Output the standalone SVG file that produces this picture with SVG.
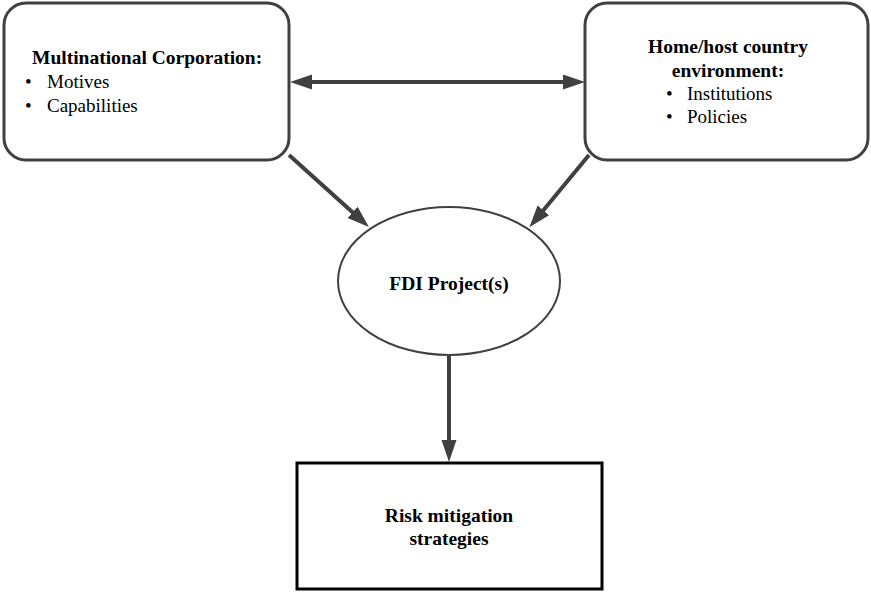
<svg xmlns="http://www.w3.org/2000/svg" width="871" height="592" viewBox="0 0 871 592" font-family="Liberation Serif">
<style>
.box{fill:#fff;stroke:#404040;stroke-width:3}
.conn{stroke:#404040;stroke-width:4;fill:none}
.b{font-weight:bold;font-size:19.5px;fill:#000}
.r{font-size:19px;fill:#000}
</style>
<defs>
<marker id="ah" markerUnits="userSpaceOnUse" markerWidth="24" markerHeight="16" refX="10" refY="7.5" orient="auto-start-reverse" viewBox="0 0 24 16">
<path d="M0,0 L22,7.5 L0,15 z" fill="#404040"/>
</marker>
</defs>
<rect width="871" height="592" fill="#fff"/>
<g id="connectors">
<line class="conn" x1="302" y1="82" x2="573" y2="82" marker-start="url(#ah)" marker-end="url(#ah)"/>
<line class="conn" x1="289" y1="155" x2="360" y2="219" marker-end="url(#ah)"/>
<line class="conn" x1="589" y1="155" x2="537" y2="218" marker-end="url(#ah)"/>
<line class="conn" x1="449" y1="356" x2="449" y2="450" marker-end="url(#ah)"/>
</g>
<g id="mnc" font-family="Liberation Serif">
<rect class="box" x="4" y="3" width="285" height="157" rx="22" ry="22"/>
<text class="b" x="32" y="64" font-family="Liberation Serif">Multinational Corporation:</text>
<text class="r" x="25" y="88" font-family="Liberation Serif">•</text>
<text class="r" x="47" y="88" font-family="Liberation Serif">Motives</text>
<text class="r" x="25" y="112" font-family="Liberation Serif">•</text>
<text class="r" x="47" y="112" font-family="Liberation Serif">Capabilities</text>
</g>
<g id="env" font-family="Liberation Serif">
<rect class="box" x="585" y="3" width="283" height="157" rx="22" ry="22"/>
<text class="b" x="728" y="53" text-anchor="middle" font-family="Liberation Serif">Home/host country</text>
<text class="b" x="728" y="77" text-anchor="middle" font-family="Liberation Serif">environment:</text>
<text class="r" x="666" y="100" font-family="Liberation Serif">•</text>
<text class="r" x="687" y="100" font-family="Liberation Serif">Institutions</text>
<text class="r" x="666" y="123" font-family="Liberation Serif">•</text>
<text class="r" x="687" y="123" font-family="Liberation Serif">Policies</text>
</g>
<g id="fdi" font-family="Liberation Serif">
<ellipse cx="449" cy="281" rx="111" ry="74" fill="#fff" stroke="#404040" stroke-width="2"/>
<text class="b" x="449" y="290" text-anchor="middle" font-family="Liberation Serif">FDI Project(s)</text>
</g>
<g id="risk" font-family="Liberation Serif">
<rect x="297" y="463" width="305" height="126" fill="#fff" stroke="#000" stroke-width="3"/>
<text class="b" x="449" y="522" text-anchor="middle" font-family="Liberation Serif">Risk mitigation</text>
<text class="b" x="449" y="545" text-anchor="middle" font-family="Liberation Serif">strategies</text>
</g>
</svg>
